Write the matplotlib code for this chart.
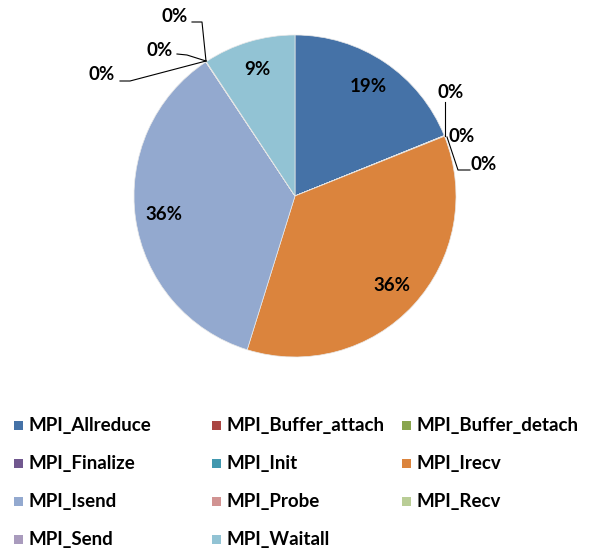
import numpy as np
import matplotlib.pyplot as plt
from matplotlib.patches import Rectangle

plt.rcParams['font.family'] = ['Lato', 'DejaVu Sans']
plt.rcParams['font.weight'] = 'bold'

# MPI call time share (%)
calls = ['MPI_Allreduce', 'MPI_Buffer_attach', 'MPI_Buffer_detach', 'MPI_Finalize',
         'MPI_Init', 'MPI_Irecv', 'MPI_Isend', 'MPI_Probe', 'MPI_Recv', 'MPI_Send',
         'MPI_Waitall']
share = [18.9, 0.02, 0.02, 0.01, 0.02, 35.9, 35.9, 0.02, 0.02, 0.02, 9.3]
colors = ['#4572A7', '#AA4643', '#89A54E', '#71588F', '#4198AF', '#DB843D',
          '#93A9CF', '#D19392', '#B9CD96', '#A99BBD', '#92C3D4']

W, H = 600, 549
fig = plt.figure(figsize=(6, 5.49), dpi=100)
ax = fig.add_axes([0, 0, 1, 1])
ax.set_xlim(0, W)
ax.set_ylim(0, H)
ax.set_aspect('equal')
ax.axis('off')

cx, cy, R = 295, H - 196, 161
fs = 13.5


def pct(p):
    return '%.0f%%' % p if p >= 1 else ''


wedges, _, autotexts = ax.pie(share, colors=colors, startangle=90, counterclock=False,
                              center=(cx, cy), radius=R, autopct=pct, pctdistance=0.82,
                              wedgeprops=dict(edgecolor='#e8e8e8', linewidth=0.5),
                              textprops=dict(fontsize=fs, fontweight='bold', color='black'))
ax.set_xlim(0, W)
ax.set_ylim(0, H)

# small slices: label position and leader path (screen-style y, flipped below)
small = {
    'MPI_Buffer_attach': ((451, 92), [(445, 102), (445, 136)]),
    'MPI_Buffer_detach': ((462, 136), None),
    'MPI_Init': ((484, 165), [(470, 170), (458, 170), (447, 137)]),
    'MPI_Probe': ((102, 75), [(120, 81), (130, 81), (206, 61)]),
    'MPI_Recv': ((160, 50), [(177, 54), (187, 55), (206, 61)]),
    'MPI_Send': ((175, 16), [(192, 22), (202, 22), (206, 61)]),
}
for name, (pos, path) in small.items():
    i = calls.index(name)
    ax.text(pos[0], H - pos[1], '%.0f%%' % share[i], ha='center', va='center',
            fontsize=fs, fontweight='bold')
    if path:
        xs = [p[0] for p in path]
        ys = [H - p[1] for p in path]
        ax.plot(xs, ys, color='black', lw=0.8)

# legend grid, filled row by row
col_x = [14, 212, 402]
row_y = [425, 463, 501, 539]
for i, name in enumerate(calls):
    r, c = divmod(i, 3)
    x, y = col_x[c], row_y[r]
    ax.add_patch(Rectangle((x, H - y - 4.5), 9, 9, facecolor=colors[i], edgecolor='none'))
    ax.text(x + 15, H - y, name, ha='left', va='center', fontsize=fs, fontweight='bold')

fig.savefig('out.png', dpi=100)
